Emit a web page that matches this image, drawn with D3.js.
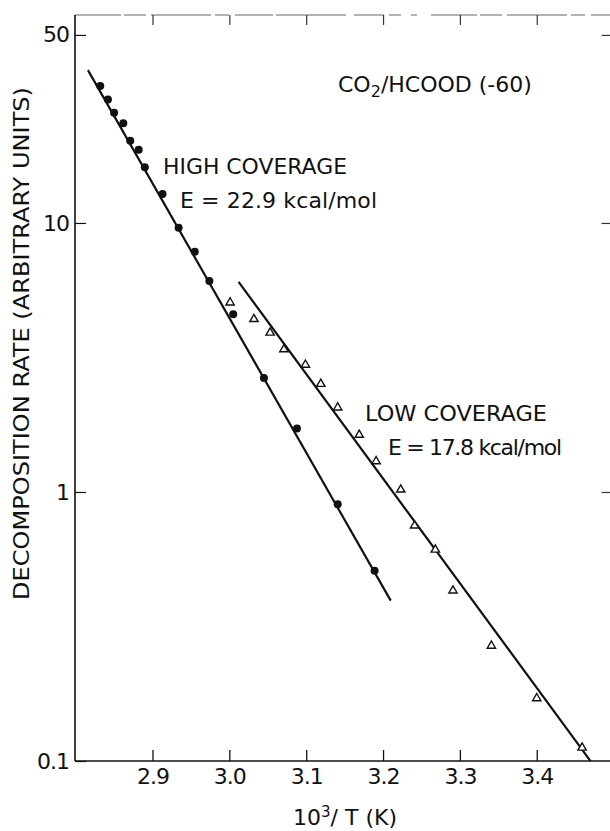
<!DOCTYPE html>
<html>
<head>
<meta charset="utf-8">
<script src="https://cdn.jsdelivr.net/npm/d3@7"></script>
<style>
  html, body { margin: 0; padding: 0; background: #fff; }
  svg { display: block; }
  text { font-family: "DejaVu Sans", "Liberation Sans", sans-serif; fill: #111; }
</style>
</head>
<body>
<svg id="chart" width="610" height="831"></svg>
<script>
// Decomposition rate vs inverse temperature (Arrhenius plot), CO2/HCOOD (-60)
const xTicks = [2.9, 3.0, 3.1, 3.2, 3.3, 3.4];
const xTickLabels = ["2.9", "3.0", "3.1", "3.2", "3.3", "3.4"];
const yTicks = [0.1, 1, 10, 50];
const yTickLabels = ["0.1", "1", "10", "50"];

// High coverage (filled circles)
const highX = [2.832, 2.842, 2.850, 2.862, 2.871, 2.882, 2.890, 2.913, 2.934, 2.955, 2.974, 3.005, 3.045, 3.088, 3.141, 3.189];
const highRate = [32.3, 28.8, 25.7, 23.5, 20.2, 18.7, 16.1, 12.8, 9.6, 7.82, 6.09, 4.58, 2.65, 1.72, 0.90, 0.51];

// Low coverage (open triangles)
const lowX = [3.001, 3.032, 3.053, 3.071, 3.099, 3.119, 3.141, 3.169, 3.191, 3.223, 3.241, 3.268, 3.291, 3.341, 3.400, 3.459];
const lowRate = [5.06, 4.39, 3.91, 3.39, 2.97, 2.52, 2.06, 1.63, 1.30, 1.02, 0.75, 0.61, 0.43, 0.268, 0.171, 0.112];

// Arrhenius fits: activation energy (kcal/mol), x-extent of the drawn line, and a point the line passes through
const highE = 22.9;
const highFitX = [2.816, 3.210];
const highFitAnchor = [3.013, 3.82];
const lowE = 17.8;
const lowFitX = [3.012, 3.470];
const lowFitAnchor = [3.241, 0.777];

const R = 1.987e-3; // kcal/(mol K)

(function draw() {
  const svg = d3.select("#chart");
  const W = 610;
  const padL = 75, padB = 761, padT = 15, axR = 613.6;

  const x = d3.scaleLinear().domain([2.8, 3.5]).range([75.65, 613.6]);
  const y = d3.scaleLog().domain([0.1, 59.3]).range([padB, padT]);
  const font = "DejaVu Sans, Liberation Sans, sans-serif";

  // Faint broken top border
  svg.append("line")
    .attr("x1", padL).attr("x2", W).attr("y1", padT).attr("y2", padT)
    .attr("stroke", "#666").attr("stroke-width", 1)
    .attr("stroke-dasharray", "46 3 22 5 60 4 14 6 38 3 70 8 30 5 12 10 6 14");

  // Bottom axis (ticks pointing up)
  const gx = svg.append("g").attr("transform", `translate(0,${padB})`)
    .call(d3.axisBottom(x).tickValues(xTicks).tickFormat((d, i) => xTickLabels[i])
      .tickSizeInner(-11).tickSizeOuter(0).tickPadding(7));
  gx.select(".domain").remove();
  gx.selectAll(".tick line").attr("stroke", "#111").attr("stroke-width", 1.3);
  gx.selectAll(".tick text").attr("font-size", 22).style("font-family", font)
    .attr("fill", "#111").attr("letter-spacing", -1);
  svg.append("line").attr("x1", padL).attr("x2", W).attr("y1", padB).attr("y2", padB)
    .attr("stroke", "#111").attr("stroke-width", 1.6);

  // Top axis ticks (pointing down)
  const gt = svg.append("g").attr("transform", `translate(0,${padT})`)
    .call(d3.axisTop(x).tickValues(xTicks).tickFormat("").tickSizeInner(-10).tickSizeOuter(0));
  gt.select(".domain").remove();
  gt.selectAll(".tick line").attr("stroke", "#333").attr("stroke-width", 1.2);

  // Left axis (ticks pointing right)
  const gy = svg.append("g").attr("transform", `translate(${padL},0)`)
    .call(d3.axisLeft(y).tickValues(yTicks).tickFormat((d, i) => yTickLabels[i])
      .tickSizeInner(-11).tickSizeOuter(0).tickPadding(6));
  gy.select(".domain").remove();
  gy.selectAll(".tick line").attr("stroke", "#111").attr("stroke-width", 1.2);
  gy.selectAll(".tick text").attr("font-size", 22).style("font-family", font)
    .attr("fill", "#111").attr("letter-spacing", -1);
  svg.append("line").attr("x1", padL).attr("x2", padL).attr("y1", padT).attr("y2", padB)
    .attr("stroke", "#111").attr("stroke-width", 1.6);

  // Right axis ticks (pointing left)
  const gr = svg.append("g").attr("transform", `translate(${axR},0)`)
    .call(d3.axisRight(y).tickValues([1, 10, 50]).tickFormat("").tickSizeInner(-12).tickSizeOuter(0));
  gr.select(".domain").remove();
  gr.selectAll(".tick line").attr("stroke", "#333").attr("stroke-width", 1.2);

  // Fitted lines from activation energies
  function fitLine(E, xs, anchor) {
    const slope = E / (Math.LN10 * R) / 1000; // decades per unit of 10^3/T
    const a = Math.log10(anchor[1]) + slope * anchor[0];
    return xs.map(v => [v, Math.pow(10, a - slope * v)]);
  }
  const line = d3.line().x(d => x(d[0])).y(d => y(d[1]));
  [[highE, highFitX, highFitAnchor], [lowE, lowFitX, lowFitAnchor]].forEach(([E, xs, anc]) => {
    svg.append("path").datum(fitLine(E, xs, anc))
      .attr("d", line).attr("fill", "none").attr("stroke", "#111").attr("stroke-width", 2.2);
  });

  // High coverage points
  svg.append("g").selectAll("circle")
    .data(d3.zip(highX, highRate)).join("circle")
    .attr("cx", d => x(d[0])).attr("cy", d => y(d[1])).attr("r", 4)
    .attr("fill", "#111");

  // Low coverage points
  const tri = d3.symbol().type(d3.symbolTriangle).size(30);
  svg.append("g").selectAll("path")
    .data(d3.zip(lowX, lowRate)).join("path")
    .attr("d", tri)
    .attr("transform", d => `translate(${x(d[0])},${y(d[1])})`)
    .attr("fill", "#fff").attr("stroke", "#111").attr("stroke-width", 1.4);

  // Axis titles
  svg.append("text")
    .attr("transform", "translate(28.5,343.5) rotate(-90)")
    .attr("text-anchor", "middle").attr("font-size", 21)
    .attr("textLength", 513).attr("lengthAdjust", "spacingAndGlyphs")
    .text("DECOMPOSITION RATE (ARBITRARY UNITS)");

  const xt = svg.append("text").attr("x", 293).attr("y", 825).attr("font-size", 22);
  xt.append("tspan").text("10");
  xt.append("tspan").attr("dy", -8).attr("font-size", 15).text("3");
  xt.append("tspan").attr("dy", 8).text("/ T (K)");

  // Annotations
  const t1 = svg.append("text").attr("x", 338).attr("y", 91.5).attr("font-size", 22);
  t1.append("tspan").text("CO");
  t1.append("tspan").attr("dy", 5).attr("font-size", 16).text("2");
  t1.append("tspan").attr("dy", -5).text("/HCOOD (-60)");

  svg.append("text").attr("x", 163).attr("y", 173.5).attr("font-size", 22)
    .attr("textLength", 184).attr("lengthAdjust", "spacingAndGlyphs").text("HIGH COVERAGE");
  svg.append("text").attr("x", 180).attr("y", 208).attr("font-size", 22)
    .attr("textLength", 197).attr("lengthAdjust", "spacing").text(`E = ${highE}  kcal/mol`);
  svg.append("text").attr("x", 365).attr("y", 420.5).attr("font-size", 22)
    .attr("textLength", 182).attr("lengthAdjust", "spacingAndGlyphs").text("LOW COVERAGE");
  svg.append("text").attr("x", 388).attr("y", 455).attr("font-size", 22)
    .attr("textLength", 174).attr("lengthAdjust", "spacing").text(`E = ${lowE}  kcal/mol`);
})();
</script>
</body>
</html>
